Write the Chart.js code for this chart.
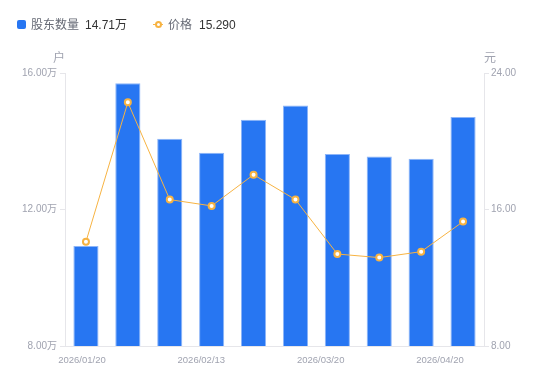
<!DOCTYPE html>
<html>
<head>
<meta charset="utf-8">
<script src="https://cdn.jsdelivr.net/npm/chart.js@4"></script>
<style>
  html, body { margin: 0; padding: 0; background: #fff; }
  #wrap { position: relative; width: 550px; height: 381px; font-family: "Liberation Sans", "Noto Sans CJK SC", sans-serif; }
  #c { position: absolute; left: 0; top: 0; }
  .lg { position: absolute; font-size: 12px; line-height: 14px; white-space: nowrap; }
  .nm { color: #666a75; }
  .vl { color: #333; }
  #sq { position: absolute; left: 17px; top: 20px; width: 9px; height: 9px; background: #2776F2; border-radius: 2px; }
  #ln { position: absolute; left: 153px; top: 24px; width: 10px; height: 1px; background: #F7B342; }
  #dot { position: absolute; left: 155px; top: 21px; width: 3px; height: 3px; border: 2px solid #F7B342; border-radius: 50%; background: #fff; }
</style>
</head>
<body>
<div id="wrap">
  <canvas id="c" width="550" height="381"></canvas>
  <div id="sq"></div>
  <span class="lg nm" style="left:31px;top:18px;">股东数量</span>
  <span class="lg vl" style="left:85px;top:18px;">14.71万</span>
  <div id="ln"></div><div id="dot"></div>
  <span class="lg nm" style="left:168px;top:18px;">价格</span>
  <span class="lg vl" style="left:199px;top:18px;">15.290</span>
</div>
<script>
const categories = ["2026/01/20","2026/01/31","2026/02/10","2026/02/13","2026/02/28","2026/03/10","2026/03/20","2026/03/31","2026/04/10","2026/04/20"];
const holders = [10.93, 15.70, 14.07, 13.66, 14.63, 15.05, 13.63, 13.55, 13.49, 14.71]; // 万户
const prices = [14.11, 22.28, 16.58, 16.21, 18.04, 16.58, 13.39, 13.18, 13.53, 15.29];   // 元
const shownTickIndexes = [0, 3, 6, 9];
const leftTicks = [8, 12, 16];
const rightTicks = [8, 16, 24];

const tickColor = '#A0A3B0';
const lineGray = '#E6E6EA';
const fontFamily = '"Liberation Sans", "Noto Sans CJK SC", sans-serif';

const axisTitles = {
  id: 'axisTitles',
  afterDraw(chart) {
    const ctx = chart.ctx;
    const a = chart.chartArea;
    ctx.save();
    ctx.font = '12px ' + fontFamily;
    ctx.fillStyle = tickColor;
    ctx.textAlign = 'center';
    ctx.textBaseline = 'middle';
    ctx.fillText('户', a.left - 6, a.top - 14);
    ctx.fillText('元', a.right + 6, a.top - 14);
    ctx.restore();
  }
};

new Chart(document.getElementById('c'), {
  data: {
    labels: categories,
    datasets: [
      {
        type: 'line',
        label: '价格',
        data: prices,
        xAxisID: 'x',
        yAxisID: 'y1',
        borderColor: '#F7B342',
        borderWidth: 1,
        pointRadius: 3,
        pointBorderWidth: 2,
        pointBackgroundColor: '#fff',
        pointBorderColor: '#F7B342',
        tension: 0,
        order: 0
      },
      {
        type: 'bar',
        label: '股东数量',
        data: holders,
        xAxisID: 'x',
        yAxisID: 'y',
        backgroundColor: '#2776F2',
        borderColor: '#8DB5F8',
        borderWidth: 1,
        borderSkipped: 'bottom',
        barPercentage: 0.6,
        categoryPercentage: 1,
        order: 1
      }
    ]
  },
  options: {
    responsive: false,
    animation: false,
    devicePixelRatio: 1,
    layout: { padding: { top: 73, bottom: 13, left: 0, right: 0 } },
    plugins: { legend: { display: false }, tooltip: { enabled: false } },
    scales: {
      x: {
        type: 'category',
        position: 'bottom',
        grid: { display: false },
        ticks: { display: false },
        border: { display: true, color: lineGray },
        afterFit: s => { s.height = 0; }
      },
      xl: {
        type: 'linear',
        position: 'bottom',
        min: -0.427,
        max: 10.106,
        grid: { display: false },
        border: { display: false },
        afterBuildTicks: s => { s.ticks = shownTickIndexes.map(v => ({ value: v })); },
        ticks: {
          autoSkip: false,
          maxRotation: 0,
          padding: 1,
          color: tickColor,
          font: { size: 9.5, family: fontFamily },
          callback: v => categories[v]
        },
        afterFit: s => { s.height = 22; }
      },
      y: {
        type: 'linear',
        position: 'left',
        min: 8, max: 16,
        afterBuildTicks: s => { s.ticks = leftTicks.map(v => ({ value: v })); },
        grid: { drawOnChartArea: false, tickLength: 5, color: lineGray },
        border: { display: true, color: lineGray },
        ticks: {
          padding: 3,
          color: tickColor,
          font: { size: 10, family: fontFamily },
          callback: v => v.toFixed(2) + '万'
        },
        afterFit: s => { s.width = 65; }
      },
      y1: {
        type: 'linear',
        position: 'right',
        min: 8, max: 24,
        afterBuildTicks: s => { s.ticks = rightTicks.map(v => ({ value: v })); },
        grid: { drawOnChartArea: false, tickLength: 5, color: lineGray },
        border: { display: true, color: lineGray },
        ticks: {
          padding: 2,
          color: tickColor,
          font: { size: 10, family: fontFamily },
          callback: v => v.toFixed(2)
        },
        afterFit: s => { s.width = 66; }
      }
    }
  },
  plugins: [axisTitles]
});
</script>
</body>
</html>
